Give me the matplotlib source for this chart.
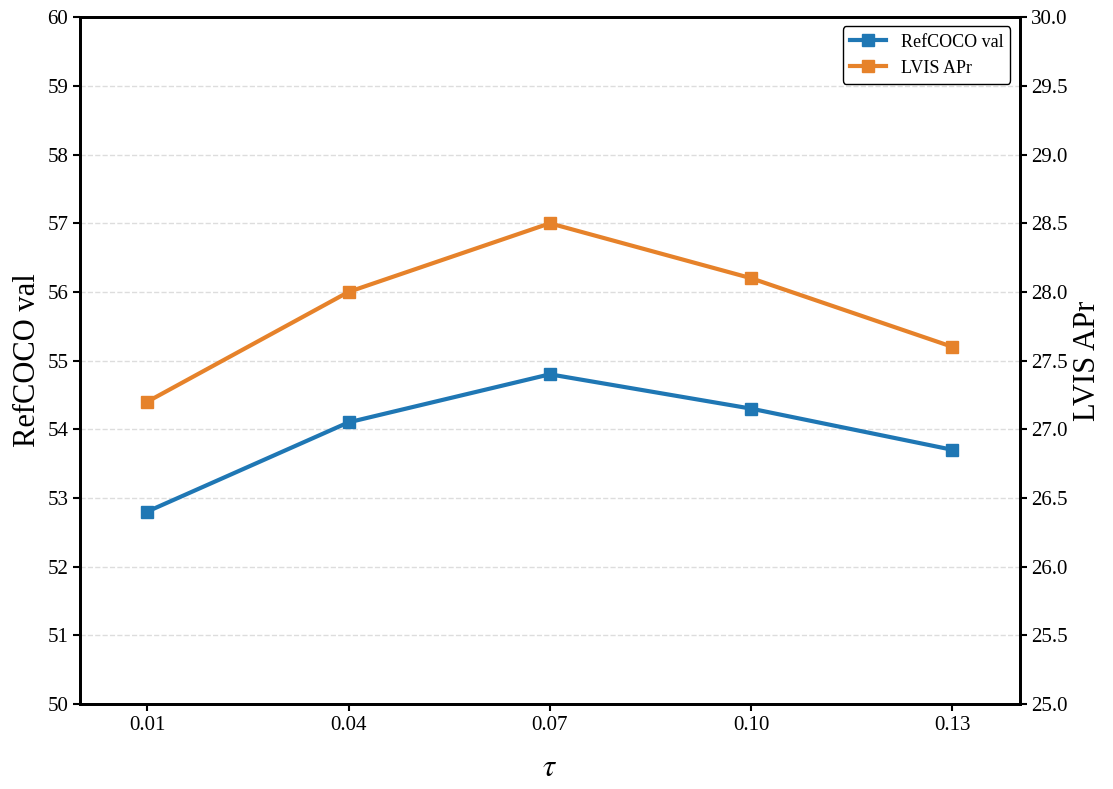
import matplotlib.pyplot as plt
from matplotlib.ticker import FormatStrFormatter

plt.rcParams['font.family'] = ['Liberation Serif', 'DejaVu Serif']
plt.rcParams['mathtext.fontset'] = 'stix'

tau = [0.01, 0.04, 0.07, 0.10, 0.13]
tau_labels = ['0.01', '0.04', '0.07', '0.10', '0.13']
refcoco = [52.8, 54.1, 54.8, 54.3, 53.7]
lvis = [27.2, 28.0, 28.5, 28.1, 27.6]

blue = '#1f77b4'
orange = '#e6822a'

fig = plt.figure(figsize=(11.13, 7.89), dpi=100)
ax = fig.add_axes([0.072, 0.108, 0.844, 0.87])
ax2 = ax.twinx()

l1, = ax.plot(tau, refcoco, color=blue, marker='s', markersize=8, linewidth=3, label='RefCOCO val')
l2, = ax2.plot(tau, lvis, color=orange, marker='s', markersize=8, linewidth=3, label='LVIS APr')

ax.set_xlim(0.0, 0.14)
ax.set_ylim(50, 60)
ax2.set_ylim(25, 30)
ax.set_yticks(range(50, 61))
ax2.set_yticks([25 + 0.5 * i for i in range(11)])
ax2.yaxis.set_major_formatter(FormatStrFormatter('%.1f'))
ax.set_xticks(tau)
ax.set_xticklabels(tau_labels)

ax.grid(axis='y', linestyle='--', color='#dddddd', linewidth=1)
ax.set_axisbelow(True)

ax.set_xlabel(r'$\tau$', fontsize=22, labelpad=14)
ax.set_ylabel('RefCOCO val', fontsize=22)
ax2.set_ylabel('LVIS APr', fontsize=22)

for a in (ax, ax2):
    a.tick_params(labelsize=15, width=1.5, length=5)
    for s in a.spines.values():
        s.set_linewidth(2)

leg = ax.legend(handles=[l1, l2], loc='upper right', fontsize=13, fancybox=True, framealpha=1, edgecolor='black')
leg.get_frame().set_linewidth(1)

fig.savefig('out.png', dpi=100)
